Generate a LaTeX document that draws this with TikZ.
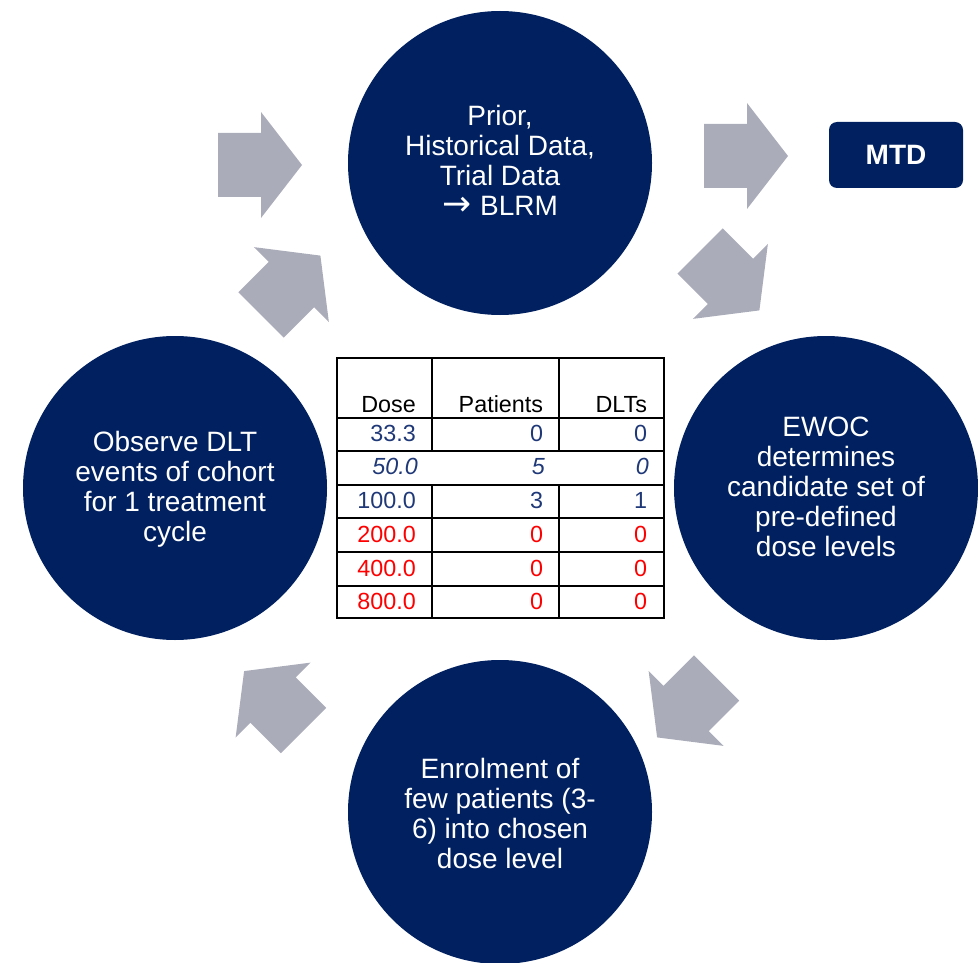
\documentclass[tikz,border=0pt]{standalone}
\usepackage{fontspec}
\setmainfont{Liberation Sans}
\newfontfamily\symfont{DejaVu Sans}
\definecolor{navy}{RGB}{0,32,96}
\definecolor{arrowgray}{RGB}{170,172,185}
\definecolor{tblue}{RGB}{31,56,120}
\definecolor{tred}{RGB}{255,0,0}
\newcommand{\grayarrow}[3]{\fill[blockarrow, shift={(#1,#2)}, rotate=#3] (0,-32) -- (43,-32) -- (43,-53) -- (84,0) -- (43,53) -- (43,32) -- (0,32) -- cycle;}
\begin{document}
\begin{tikzpicture}[x=0.75pt,y=-0.75pt,
  stage/.style={circle, fill=navy, minimum size=228pt, inner sep=0pt},
  stagetext/.style={text=white, align=center, font=\fontsize{21}{22.5}\selectfont, inner sep=0pt},
  blockarrow/.style={fill=arrowgray, draw=none},
  cell/.style={inner sep=0pt, anchor=base east, font=\fontsize{17.5}{20}\selectfont},
  bluecell/.style={cell, text=tblue},
  redcell/.style={cell, text=tred},
  tblline/.style={line width=1.7pt, line cap=rect, draw=black}
]
\useasboundingbox (0,0) rectangle (978,963);

% stage circles
\node[stage] (prior) at (500,163) {};
\node[stage] (ewoc) at (826,488) {};
\node[stage] (enrol) at (500,812) {};
\node[stage] (observe) at (175,488) {};

\node[stagetext] (priortext) at (500,160) {Prior,\\Historical Data,\\Trial Data\\{\symfont\fontsize{26}{22.5}\selectfont →}\hspace{1pt} BLRM};
\node[stagetext] (ewoctext) at (826,487) {EWOC\\determines\\candidate set of\\pre-defined\\dose levels};
\node[stagetext] (enroltext) at (500,813) {Enrolment of\\few patients (3-\\6) into chosen\\dose level};
\node[stagetext] (observetext) at (175,489) {Observe DLT\\events of cohort\\for 1 treatment\\cycle};

% MTD box
\node[fill=navy, rounded corners=6pt, minimum width=100.5pt, minimum height=49.5pt, inner sep=0pt, text=white, font=\bfseries\fontsize{21}{24}\selectfont] (mtd) at (896,155) {MTD};

% block arrows
\grayarrow{218}{165}{0}
\grayarrow{704}{156}{0}
\grayarrow{700}{251}{-45}
\grayarrow{716.5}{678}{-135}
\grayarrow{303.5}{730.5}{135}
\grayarrow{261}{315}{45}

% table lines
\draw[tblline] (337,358) rectangle (664,618);
\foreach \yy in {418,451,485,518,552,586} \draw[tblline] (337,\yy) -- (664,\yy);
\foreach \xx in {432,559} {
  \draw[tblline] (\xx,358) -- (\xx,451);
  \draw[tblline] (\xx,485) -- (\xx,618);
}

% header
\node[cell, text=black] (hdose) at (416,412.7) {Dose};
\node[cell, text=black] (hpat) at (543.3,412.7) {Patients};
\node[cell, text=black] (hdlt) at (647.3,412.7) {DLTs};

% rows
\node[bluecell] (d1) at (416,441.7) {33.3};
\node[bluecell] (p1) at (543.3,441.7) {0};
\node[bluecell] (l1) at (647.3,441.7) {0};

\node[bluecell, font=\itshape\fontsize{17.5}{20}\selectfont] (d2) at (418,474.3) {50.0};
\node[bluecell, font=\itshape\fontsize{17.5}{20}\selectfont] (p2) at (545,474.3) {5};
\node[bluecell, font=\itshape\fontsize{17.5}{20}\selectfont] (l2) at (649,474.3) {0};

\node[bluecell] (d3) at (416,508) {100.0};
\node[bluecell] (p3) at (543.3,508) {3};
\node[bluecell] (l3) at (647.3,508) {1};

\node[redcell] (d4) at (416,542.7) {200.0};
\node[redcell] (p4) at (543.3,542.7) {0};
\node[redcell] (l4) at (647.3,542.7) {0};

\node[redcell] (d5) at (416,576) {400.0};
\node[redcell] (p5) at (543.3,576) {0};
\node[redcell] (l5) at (647.3,576) {0};

\node[redcell] (d6) at (416,609.3) {800.0};
\node[redcell] (p6) at (543.3,609.3) {0};
\node[redcell] (l6) at (647.3,609.3) {0};
\end{tikzpicture}
\end{document}
